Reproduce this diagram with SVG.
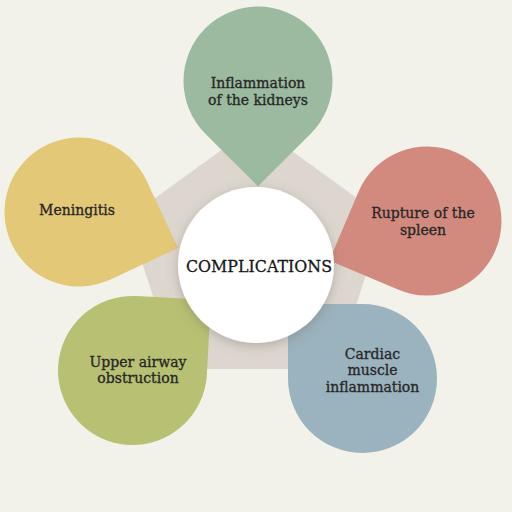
<svg xmlns="http://www.w3.org/2000/svg" width="512" height="512" viewBox="0 0 512 512">
<defs>
<style>
.lbl{font-family:"DejaVu Serif","Liberation Serif",serif;font-size:14px;fill:#262626;stroke:#262626;stroke-width:0.3;text-anchor:middle}
.title{font-family:"DejaVu Serif","Liberation Serif",serif;font-size:17px;fill:#161616;stroke:#161616;stroke-width:0.3;text-anchor:middle}
</style>
<path id="drop" d="M105.36,0 L52.68,52.68 A74.5,74.5 0 1 1 52.68,-52.68 Z"/>
<filter id="sh" x="-30%" y="-30%" width="160%" height="160%">
<feDropShadow dx="0" dy="3" stdDeviation="6" flood-color="#6b6259" flood-opacity="0.35"/>
</filter>
</defs>
<rect width="512" height="512" fill="#f2f2eb"/>
<polygon id="pentagon" points="256,125 384.4,218 335.4,369 176.6,369 127.6,218" fill="#dcd6cf"/>
<g id="connectors"/>
<g id="n-kidneys">
<use href="#drop" transform="translate(258,81) rotate(90)" fill="#9bba9f"/>
<text class="lbl" x="258" y="88">Inflammation</text>
<text class="lbl" x="258" y="105">of the kidneys</text>
</g>
<g id="n-meningitis">
<use href="#drop" transform="translate(79,212) rotate(20)" fill="#e3c877"/>
<text class="lbl" x="77" y="215">Meningitis</text>
</g>
<g id="n-spleen">
<use href="#drop" transform="translate(427,221) rotate(158)" fill="#d38a7e"/>
<text class="lbl" x="423" y="218">Rupture of the</text>
<text class="lbl" x="423" y="235">spleen</text>
</g>
<g id="n-airway">
<use href="#drop" transform="translate(132.5,370.5) rotate(-42)" fill="#b8c073"/>
<text class="lbl" x="138" y="367">Upper airway</text>
<text class="lbl" x="138" y="383">obstruction</text>
</g>
<g id="n-cardiac">
<use href="#drop" transform="translate(362.5,378.5) rotate(-135)" fill="#9bb3be"/>
<text class="lbl" x="372.5" y="359">Cardiac</text>
<text class="lbl" x="372.5" y="375">muscle</text>
<text class="lbl" x="372.5" y="392">inflammation</text>
</g>
<g id="n-center">
<circle cx="256" cy="265" r="78" fill="#ffffff" filter="url(#sh)"/>
<text class="title" x="259" y="272" textLength="146" lengthAdjust="spacingAndGlyphs">COMPLICATIONS</text>
</g>
</svg>
